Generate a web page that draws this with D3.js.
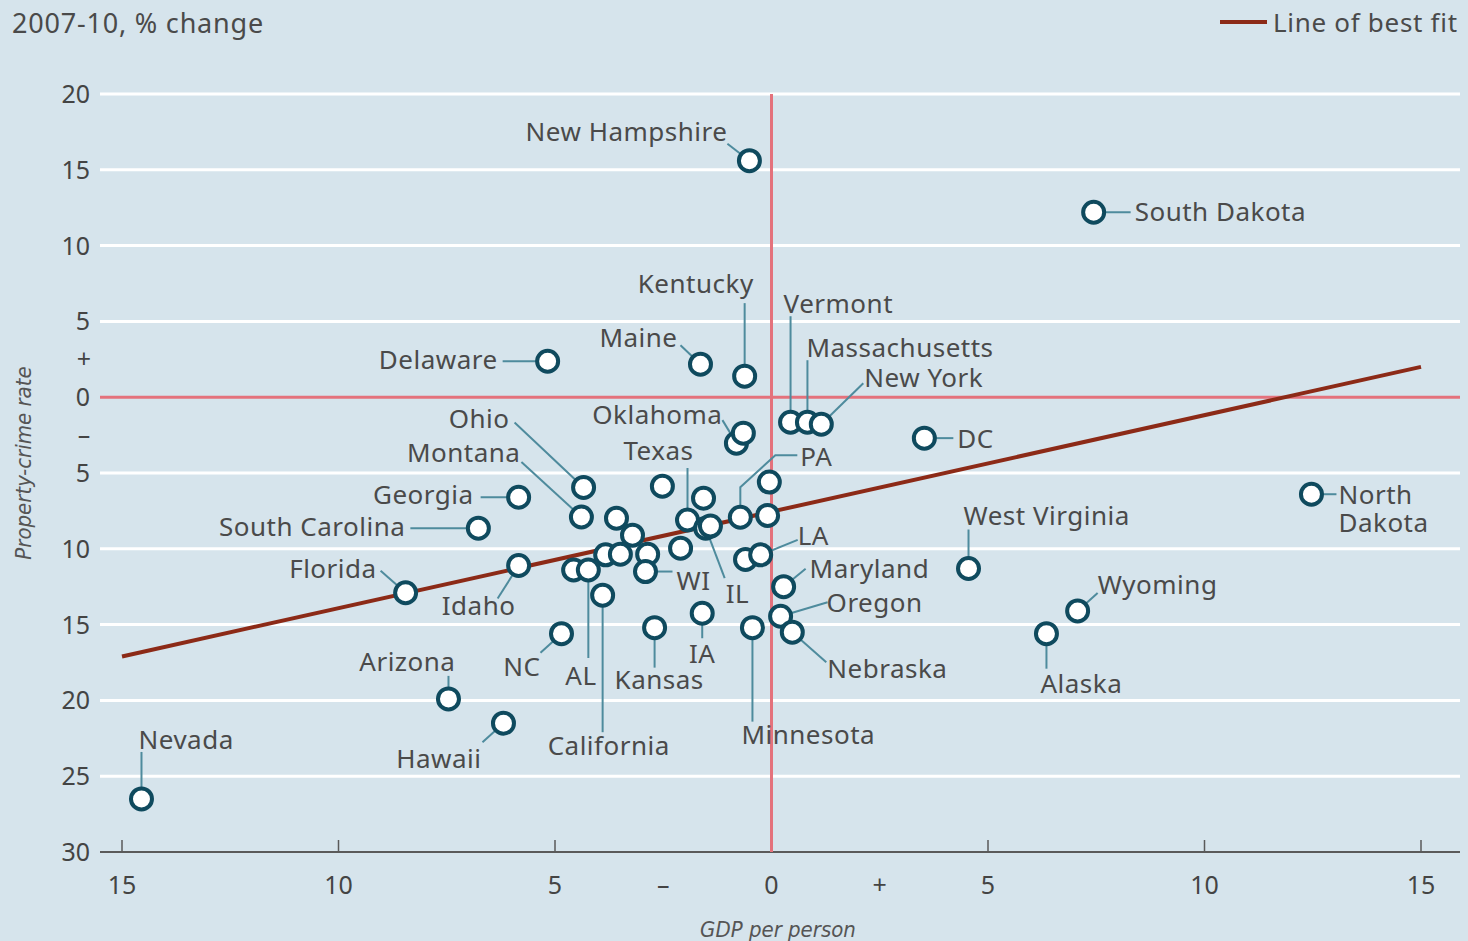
<!DOCTYPE html>
<html>
<head>
<meta charset="utf-8">
<script src="https://d3js.org/d3.v7.min.js"></script>
<style>
  body { margin: 0; background: #d6e4ec; }
  svg { display: block; }
  .lbl { font-family: "Noto Sans", sans-serif; font-size: 26px; letter-spacing: 0.5px; fill: #4a4a4a; }
  .tick-lbl { font-family: "Noto Sans", sans-serif; font-size: 25px; fill: #444; }
  .axis-title { font-family: "Liberation Sans Narrow", "DejaVu Sans Condensed", "DejaVu Sans", sans-serif;
                font-stretch: condensed; font-style: italic; font-size: 22px; fill: #555; }
</style>
</head>
<body>
<div id="chart"></div>
<script>

// state names ("" = unlabelled), GDP per person % change, property-crime rate % change
var states = ["New Hampshire", "South Dakota", "Kentucky", "Maine", "Delaware", "Vermont",
  "Massachusetts", "New York", "DC", "Oklahoma", "", "PA", "", "", "Ohio", "Montana",
  "Georgia", "South Carolina", "", "", "", "", "Texas", "IL", "", "", "", "", "", "WI",
  "", "AL", "California", "Idaho", "Florida", "", "LA", "Maryland", "Oregon", "Nebraska",
  "Minnesota", "IA", "Kansas", "NC", "Arizona", "Hawaii", "Nevada", "West Virginia",
  "Wyoming", "Alaska", "North Dakota"];

var gdp = [-0.51, 7.44, -0.62, -1.64, -5.17, 0.44, 0.83, 1.15, 3.53, -0.81, -0.65, -0.72,
  -0.05, -0.09, -4.34, -4.39, -5.84, -6.77, -2.52, -3.58, -3.21, -1.57, -1.94, -1.52, -1.41,
  -2.1, -3.83, -3.49, -2.86, -2.91, -4.57, -4.23, -3.9, -5.84, -8.45, -0.6, -0.25, 0.28, 0.21,
  0.48, -0.44, -1.6, -2.7, -4.85, -7.46, -6.19, -14.55, 4.55, 7.07, 6.35, 12.47];

var crime = [15.6, 12.2, 1.39, 2.18, 2.37, -1.65, -1.65, -1.78, -2.7, -3.03, -2.37, -7.92,
  -5.6, -7.8, -5.95, -7.9, -6.6, -8.64, -5.87, -7.98, -9.1, -6.66, -8.1, -8.64, -8.5,
  -9.96, -10.4, -10.36, -10.36, -11.5, -11.4, -11.4, -13.06, -11.1, -12.9, -10.7, -10.4, -12.5, -14.45,
  -15.5, -15.2, -14.25, -15.2, -15.6, -19.9, -21.5, -26.5, -11.3, -14.1, -15.6, -6.4];

// line of best fit end points
var fitX = [-15, 15];
var fitY = [-17.1, 2.0];

var yTicks = [20, 15, 10, 5, 0, -5, -10, -15, -20, -25, -30];
var xTicks = [-15, -10, -5, 0, 5, 10, 15];

// label placement: text offset from the point and leader line offsets
var labelLayout = {
  "New Hampshire": ["end", -22, -20, [[-22, -17]]],
  "South Dakota": ["start", 41, 9, [[37, 0]]],
  "Kentucky": ["end", 9, -83, [[0, -73]]],
  "Vermont": ["start", -7, -109, [[0, -106]]],
  "Massachusetts": ["start", -1, -65, [[0, -62]]],
  "New York": ["start", 43, -37, [[42, -41]]],
  "Maine": ["end", -23, -17, [[-20, -19]]],
  "Delaware": ["end", -50, 8, [[-45, 0]]],
  "Oklahoma": ["end", -14, -19, [[-14, -23]]],
  "Texas": ["end", 6, -60, [[0, -52]]],
  "PA": ["start", 60, -51, [[0, -30], [35, -62], [57, -62]]],
  "DC": ["start", 33, 10, [[29, 0]]],
  "Ohio": ["end", -74, -59, [[-69, -65]]],
  "Montana": ["end", -61, -55, [[-60, -55]]],
  "Georgia": ["end", -45, 7, [[-38, 0]]],
  "South Carolina": ["end", -73, 8, [[-68, 0]]],
  "Florida": ["end", -29, -15, [[-25, -22]]],
  "Idaho": ["middle", -40, 50, [[-21, 33]]],
  "WI": ["start", 31, 18, [[27, 0]]],
  "IL": ["start", 20, 75, [[19, 50]]],
  "LA": ["start", 37, -10, [[37, -15]]],
  "Maryland": ["start", 26, -9, [[22, -18]]],
  "Oregon": ["start", 46, -4, [[47, -14]]],
  "Nebraska": ["start", 35, 46, [[34, 30]]],
  "Minnesota": ["start", -11, 116, [[0, 94]]],
  "IA": ["middle", 0, 50, [[0, 25]]],
  "Kansas": ["start", -40, 61, [[0, 40]]],
  "California": ["start", -55, 160, [[0, 137]]],
  "AL": ["start", -23, 115, [[0, 88]]],
  "NC": ["end", -21, 42, [[-21, 19]]],
  "Arizona": ["end", 7, -28, [[0, -23]]],
  "Hawaii": ["end", -22, 45, [[-21, 19]]],
  "Nevada": ["start", -3, -50, [[0, -47]]],
  "West Virginia": ["start", -5, -44, [[0, -39]]],
  "Wyoming": ["start", 20, -17, [[20, -18]]],
  "Alaska": ["start", -6, 59, [[0, 35]]],
  "North Dakota": ["start", 27, 10, [[25, 0]]]
};

var W = 1468, H = 941;
var svg = d3.select("#chart").append("svg")
  .attr("width", W)
  .attr("height", H);

svg.append("rect").attr("width", W).attr("height", H).attr("fill", "#d6e4ec");

var x = d3.scaleLinear().domain([-15, 15]).range([122, 1421]);
var y = d3.scaleLinear().domain([-30, 20]).range([852, 94]);
var left = 100, right = 1460;

// white grid lines
svg.append("g")
  .selectAll("line")
  .data(yTicks.filter(function(d) { return d != 0 && d != -30; }))
  .enter().append("line")
    .attr("x1", left).attr("x2", right)
    .attr("y1", function(d) { return y(d); })
    .attr("y2", function(d) { return y(d); })
    .attr("stroke", "#fff")
    .attr("stroke-width", 3);

// y tick labels
svg.append("g")
  .selectAll("text")
  .data(yTicks)
  .enter().append("text")
    .attr("class", "tick-lbl")
    .attr("x", 90)
    .attr("y", function(d) { return y(d) + 9; })
    .attr("text-anchor", "end")
    .text(function(d) { return Math.abs(d); });

svg.append("text").attr("class", "tick-lbl").attr("x", 84).attr("y", y(2.5) + 9)
  .attr("text-anchor", "middle").text("+");
svg.append("text").attr("class", "tick-lbl").attr("x", 84).attr("y", y(-2.5) + 9)
  .attr("text-anchor", "middle").text("–");

// bottom axis
svg.append("line")
  .attr("x1", left).attr("x2", right)
  .attr("y1", y(-30)).attr("y2", y(-30))
  .attr("stroke", "#5a5a5a").attr("stroke-width", 2);

svg.append("g")
  .selectAll("line")
  .data(xTicks)
  .enter().append("line")
    .attr("x1", function(d) { return x(d); })
    .attr("x2", function(d) { return x(d); })
    .attr("y1", y(-30)).attr("y2", y(-30) - 12)
    .attr("stroke", "#5a5a5a").attr("stroke-width", 1.5);

svg.append("g")
  .selectAll("text")
  .data(xTicks)
  .enter().append("text")
    .attr("class", "tick-lbl")
    .attr("x", function(d) { return x(d); })
    .attr("y", 894)
    .attr("text-anchor", "middle")
    .text(function(d) { return Math.abs(d); });

svg.append("text").attr("class", "tick-lbl").attr("x", x(-2.5)).attr("y", 894)
  .attr("text-anchor", "middle").text("–");
svg.append("text").attr("class", "tick-lbl").attr("x", x(2.5)).attr("y", 894)
  .attr("text-anchor", "middle").text("+");

// zero lines
svg.append("line")
  .attr("x1", left).attr("x2", right)
  .attr("y1", y(0)).attr("y2", y(0))
  .attr("stroke", "#e4727c").attr("stroke-width", 3);
svg.append("line")
  .attr("x1", x(0)).attr("x2", x(0))
  .attr("y1", y(20)).attr("y2", y(-30))
  .attr("stroke", "#e4727c").attr("stroke-width", 3);

// line of best fit
svg.append("line")
  .attr("x1", x(fitX[0])).attr("y1", y(fitY[0]))
  .attr("x2", x(fitX[1])).attr("y2", y(fitY[1]))
  .attr("stroke", "#8c2a17").attr("stroke-width", 4);

// points
var pts = states.map(function(s, i) {
  return { name: s, px: x(gdp[i]), py: y(crime[i]) };
});

// leader lines
var leaders = svg.append("g");
pts.forEach(function(p) {
  var l = labelLayout[p.name];
  if (!l) return;
  var path = [[p.px, p.py]].concat(l[3].map(function(o) { return [p.px + o[0], p.py + o[1]]; }));
  leaders.append("path")
    .attr("d", d3.line()(path))
    .attr("fill", "none")
    .attr("stroke", "#4e8b9d")
    .attr("stroke-width", 2);
});

svg.append("g")
  .selectAll("circle")
  .data(pts)
  .enter().append("circle")
    .attr("cx", function(d) { return d.px; })
    .attr("cy", function(d) { return d.py; })
    .attr("r", 10.5)
    .attr("fill", "#fff")
    .attr("stroke", "#0f4a5e")
    .attr("stroke-width", 4);

// labels
var labels = svg.append("g");
pts.forEach(function(p) {
  var l = labelLayout[p.name];
  if (!l) return;
  var t = labels.append("text")
    .attr("class", "lbl")
    .attr("x", p.px + l[1])
    .attr("y", p.py + l[2])
    .attr("text-anchor", l[0]);
  if (p.name == "North Dakota") {
    t.append("tspan").attr("x", p.px + l[1]).text("North");
    t.append("tspan").attr("x", p.px + l[1]).attr("dy", 28).text("Dakota");
  } else {
    t.text(p.name);
  }
});

// title and legend
svg.append("text").attr("class", "lbl").attr("x", 12).attr("y", 33)
  .style("font-size", "27px").style("letter-spacing", "0.8px")
  .text("2007-10, % change");

svg.append("line").attr("x1", 1220).attr("x2", 1267).attr("y1", 22).attr("y2", 22)
  .attr("stroke", "#8c2a17").attr("stroke-width", 4);
svg.append("text").attr("class", "lbl").attr("x", 1273).attr("y", 32)
  .style("letter-spacing", "0.7px")
  .text("Line of best fit");

// axis titles
svg.append("text").attr("class", "axis-title")
  .attr("transform", "translate(31,463) rotate(-90)")
  .attr("text-anchor", "middle")
  .text("Property-crime rate");

svg.append("text").attr("class", "axis-title")
  .attr("x", 778).attr("y", 937)
  .attr("text-anchor", "middle")
  .text("GDP per person");

</script>
</body>
</html>
